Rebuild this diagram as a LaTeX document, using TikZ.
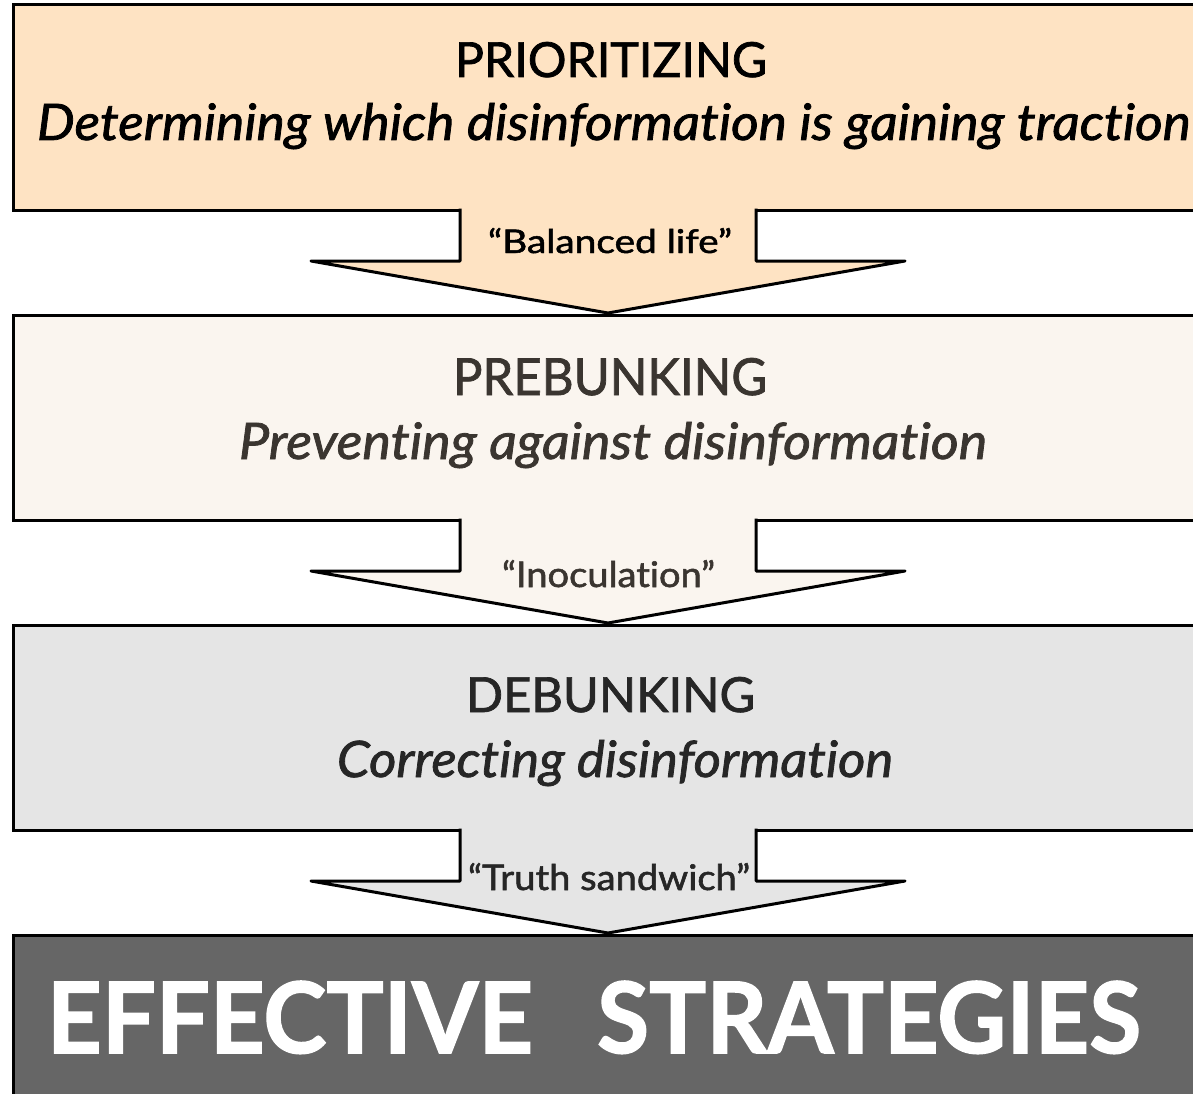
\documentclass[tikz,border=0pt]{standalone}
\usepackage{graphicx}
\usepackage{fontspec}
\setmainfont{Lato}[FakeBold=1.5,Ligatures=NoCommon]
\usetikzlibrary{calc}
\definecolor{fillA}{HTML}{FEE3C3}
\definecolor{fillB}{HTML}{FAF5EF}
\definecolor{fillC}{HTML}{E5E5E5}
\definecolor{fillD}{HTML}{666666}
\definecolor{txtB}{HTML}{3A3530}
\definecolor{txtC}{HTML}{262626}
\newcommand{\fitbox}[3]{\resizebox{#1pt}{#2pt}{#3}}
\begin{document}
\begin{tikzpicture}[x=1pt,y=-1pt,
  stagebox/.style={draw=black,line width=3pt,minimum width=1190pt,minimum height=205pt,
    inner sep=0pt,outer sep=0pt,anchor=north west},
  arrowline/.style={draw=black,line width=3pt,line join=round},
  txt/.style={inner sep=0pt,outer sep=0pt,anchor=base west}]
\useasboundingbox (0,0) rectangle (1193,1094);
\clip (0,0) rectangle (1193,1094);
\fill[white] (0,0) rectangle (1193,1094);
\node[stagebox,fill=fillA] (b1) at (13,5) {};
\node[stagebox,fill=fillB] (b2) at (13,315) {};
\node[stagebox,fill=fillC] (b3) at (13,625) {};
\node[stagebox,fill=fillD] (b4) at (13,935) {};
\foreach \a/\b/\c in {b1/b2/fillA,b2/b3/fillB,b3/b4/fillC}{
  \fill[\c] ($(\a.south)+(-148,-3)$) -- ($(\a.south)+(-148,51)$) -- ($(\a.south)+(-297,51)$)
    -- ($(\b.north)+(0,-2)$) -- ($(\a.south)+(297,51)$) -- ($(\a.south)+(148,51)$)
    -- ($(\a.south)+(148,-3)$) -- cycle;
  \draw[arrowline] ($(\a.south)+(-148,-1.5)$) -- ($(\a.south)+(-148,51)$) -- ($(\a.south)+(-297,51)$)
    -- ($(\b.north)+(0,-2)$) -- ($(\a.south)+(297,51)$) -- ($(\a.south)+(148,51)$)
    -- ($(\a.south)+(148,-1.5)$);
}
\node[txt] (t1) at (455,77) {\fitbox{312}{35}{PRIORITIZING}};
\node[txt] (s1) at (37,140) {\fitbox{1153}{37}{\itshape Determining which disinformat\kern0pt ion is gaining tract\kern0pt ion}};
\node[txt] (l1) at (488,253) {\fitbox{244}{25}{“Balanced life”}};
\node[txt,text=txtB] (t2) at (453,395) {\fitbox{314}{37}{PREBUNKING}};
\node[txt,text=txtB] (s2) at (239,459) {\fitbox{748}{37}{\itshape Prevent\kern0pt ing against disinformat\kern0pt ion}};
\node[txt,text=txtB] (l2) at (502,587) {\fitbox{213}{27}{“Inoculat\kern0pt ion”}};
\node[txt,text=txtC] (t3) at (466,712) {\fitbox{289}{35}{DEBUNKING}};
\node[txt,text=txtC] (s3) at (337,777) {\fitbox{556}{37}{\itshape Correct\kern0pt ing disinformat\kern0pt ion}};
\node[txt,text=txtC] (l3) at (468,890) {\fitbox{282}{27}{“Truth sandwich”}};
\node[txt,text=white] (t4) at (47,1053) {\bfseries\fitbox{486}{72}{EFFECTIVE}\hspace{64pt}\fitbox{544}{72}{STRATEGIES}};
\end{tikzpicture}
\end{document}
